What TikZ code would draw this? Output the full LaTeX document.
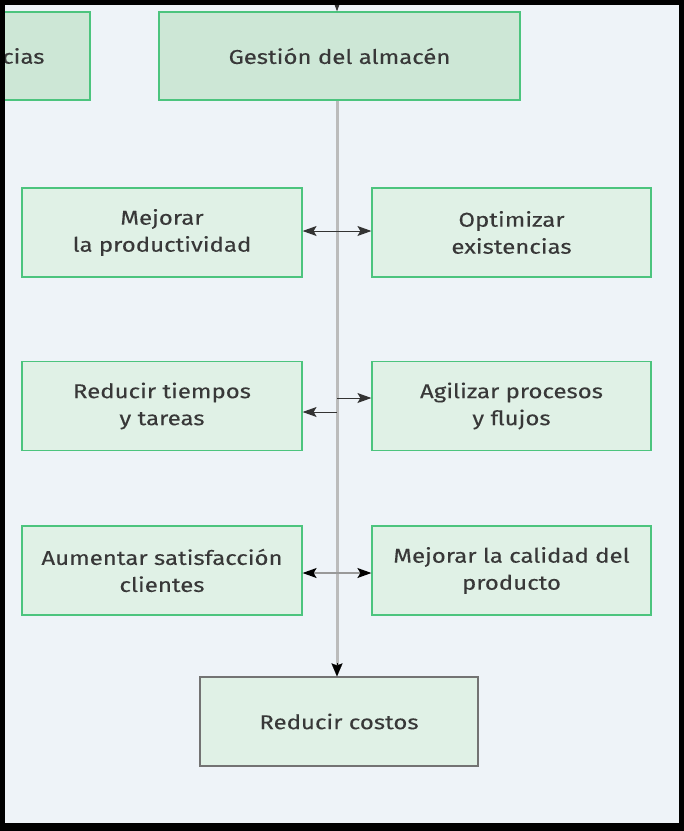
\documentclass[tikz,border=0pt]{standalone}
\usepackage{fontspec}
\setmainfont[FakeStretch=1.2,FakeBold=0.15]{Fira Sans}
\usetikzlibrary{arrows.meta}
\definecolor{bg}{HTML}{EEF3F8}
\definecolor{boxfill}{HTML}{E0F1E6}
\definecolor{boxdark}{HTML}{CDE7D6}
\definecolor{boxline}{HTML}{4CC47E}
\definecolor{txt}{HTML}{383838}
\definecolor{vline}{HTML}{BBBBBB}
\tikzset{
  goal/.style={draw=boxline, line width=1.2pt, fill=boxfill, minimum width=280pt, minimum height=89pt,
    inner sep=0pt, align=center, text=txt, font=\fontsize{20}{27}\selectfont},
  topbox/.style={goal, fill=boxdark},
  endbox/.style={goal, draw=black!55},
  link/.style={draw=black!80, line width=1pt, -{Stealth[length=14pt,width=10pt,inset=3pt]}},
  dlink/.style={draw=black!80, line width=1pt, {Stealth[length=14pt,width=10pt,inset=3pt]}-{Stealth[length=14pt,width=10pt,inset=3pt]}},
}
\begin{document}
\begin{tikzpicture}[x=1pt,y=-1pt]
\useasboundingbox (0,0) rectangle (684,831);
\fill[bg] (0,0) rectangle (684,831);
% partial box at left
\draw[boxline, line width=1.2pt, fill=boxdark] (-20,12) rectangle (90,100);
\node[anchor=west, inner sep=0pt, text=txt, font=\fontsize{20}{27}\selectfont] (cut) at (2,56) {cias};
% main boxes
\node[topbox, minimum width=361pt, minimum height=88pt] (gest) at (339.5,56) {Gestión del almacén};
\node[goal] (l1) at (162,232.5) {Mejorar\\la productividad};
\node[goal, minimum width=279pt] (r1) at (511.5,232.5) {Optimizar\\existencias};
\node[goal] (l2) at (162,406) {Reducir tiempos\\y tareas};
\node[goal, minimum width=279pt] (r2) at (511.5,406) {Agilizar procesos\\y flujos};
\node[goal] (l3) at (162,570.5) {Aumentar satisfacción\\clientes};
\node[goal, minimum width=279pt] (r3) at (511.5,570.5) {Mejorar la calidad del\\producto};
\node[endbox, minimum width=278pt] (cost) at (339,721.5) {Reducir costos};
% spine
\coordinate (top) at (337,-20);
\draw[link] (top) -- (gest.north -| top);
\draw[draw=vline, line width=3pt] (gest.south -| top) -- ([yshift=10pt]cost.north -| top);
\draw[line width=0.1pt, -{Stealth[length=13pt,width=11pt,inset=2pt,black]}] ([yshift=13pt]cost.north -| top) -- (cost.north -| top);
% side connectors
\draw[dlink] ([yshift=1.5pt]l1.east) -- ([yshift=1.5pt]r1.west);
\coordinate (s2a) at (337,398);
\coordinate (s2b) at (337,412);
\draw[link] (s2a) -- (s2a -| r2.west);
\draw[link] (s2b) -- (s2b -| l2.east);
\draw[dlink, draw=black!40, line width=1.4pt, {Stealth[length=14pt,width=10pt,inset=3pt,black]}-{Stealth[length=14pt,width=10pt,inset=3pt,black]}] ([yshift=-2.5pt]l3.east) -- ([yshift=-2.5pt]r3.west);
% frame
\fill[black] (0,0) rectangle (684,5);
\fill[black] (0,0) rectangle (5,831);
\fill[black] (679,0) rectangle (684,831);
\fill[black] (0,823) rectangle (684,831);
\end{tikzpicture}
\end{document}
